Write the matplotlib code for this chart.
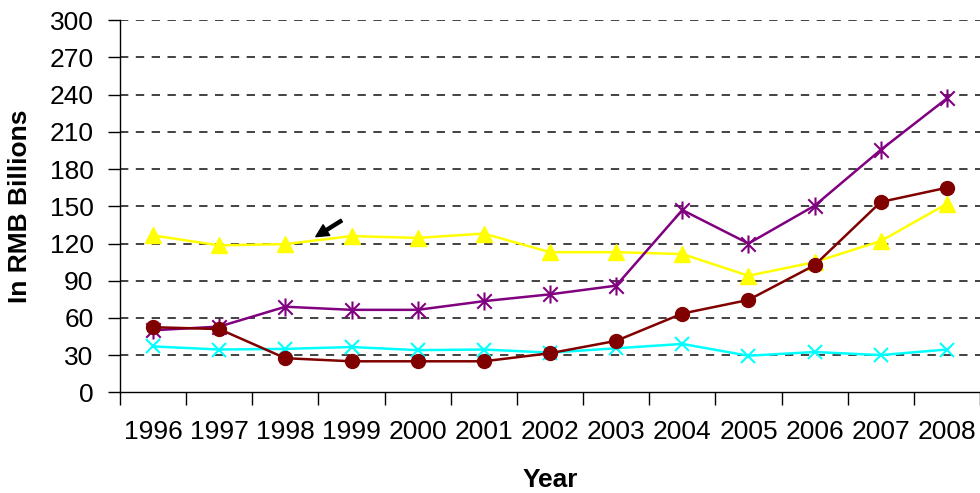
import matplotlib.pyplot as plt
from matplotlib.path import Path
from matplotlib.ticker import FixedLocator, NullFormatter
import numpy as np

years = ['1996', '1997', '1998', '1999', '2000', '2001', '2002',
         '2003', '2004', '2005', '2006', '2007', '2008']

# RMB billions per year
yellow_vals = [126.5, 118.5, 119.5, 126, 124.5, 128, 113, 113, 111.5, 94, 105, 122, 152]
purple_vals = [50, 53, 69, 66.5, 66.5, 73.5, 79, 86, 147, 120, 150.5, 195.5, 237]
cyan_vals = [37, 34.5, 35, 36.5, 34, 34.5, 32, 35.5, 39, 29.5, 32.5, 30, 34.5]
red_vals = [52.5, 51, 27.5, 25, 25, 25, 31.5, 41.5, 63.5, 74.5, 102.5, 153.5, 165]

y_ticks = list(range(0, 301, 30))

# excel-style star: an x with a vertical bar through it
star = Path([(-1, -1), (1, 1), (-1, 1), (1, -1), (0, -1.25), (0, 1.25)],
            [Path.MOVETO, Path.LINETO, Path.MOVETO, Path.LINETO,
             Path.MOVETO, Path.LINETO])

plt.rcParams['font.family'] = ['Liberation Sans', 'DejaVu Sans']

fig = plt.figure(figsize=(9.8, 4.93), dpi=100)
ax = fig.add_axes([120 / 980, 100.7 / 493, 860 / 980, 372 / 493])

x = np.arange(len(years))

for yv in y_ticks[1:]:
    ax.axhline(yv, color='#222222', lw=1.2, ls=(0, (5, 4.5)), zorder=1)

ax.plot(x, yellow_vals, color='#FFFF00', lw=1.8, marker='^', markersize=11,
        markeredgecolor='#FFFF00', zorder=3)
ax.plot(x, purple_vals, color='#800080', lw=1.8, marker=star, markersize=13,
        markeredgewidth=1.5, markerfacecolor='none', markeredgecolor='#800080', zorder=4)
ax.plot(x, cyan_vals, color='#00FFFF', lw=1.8, marker='x', markersize=10,
        markeredgewidth=1.5, zorder=5)
ax.plot(x, red_vals, color='#800000', lw=1.8, marker='o', markersize=10,
        markeredgecolor='#800000', zorder=6)

ax.annotate('', xy=(2.46, 125.5), xytext=(2.85, 138.5),
            arrowprops=dict(facecolor='black', edgecolor='black', width=2.2,
                            headwidth=9, headlength=9, shrink=0))

ax.set_xlim(-0.5, len(years) - 0.5)
ax.set_ylim(0, 300)
ax.set_yticks(y_ticks)
ax.tick_params(axis='y', direction='out', length=9, width=1, pad=10, labelsize=19)

# category boundaries get the tick marks, labels sit in between
ax.xaxis.set_major_locator(FixedLocator(np.arange(-0.5, len(years), 1.0)))
ax.xaxis.set_major_formatter(NullFormatter())
ax.xaxis.set_minor_locator(FixedLocator(x))
ax.set_xticklabels(years, minor=True)
ax.tick_params(axis='x', which='major', direction='out', length=9, width=1)
ax.tick_params(axis='x', which='minor', length=0, pad=20, labelsize=19)

for s in ['top', 'right']:
    ax.spines[s].set_visible(False)
for s in ['left', 'bottom']:
    ax.spines[s].set_linewidth(1)

ax.set_xlabel('Year', fontsize=19, fontweight='bold', labelpad=17)
ax.set_ylabel('In RMB Billions', fontsize=19, fontweight='bold', labelpad=12.5)

fig.savefig('out.png', dpi=100)
